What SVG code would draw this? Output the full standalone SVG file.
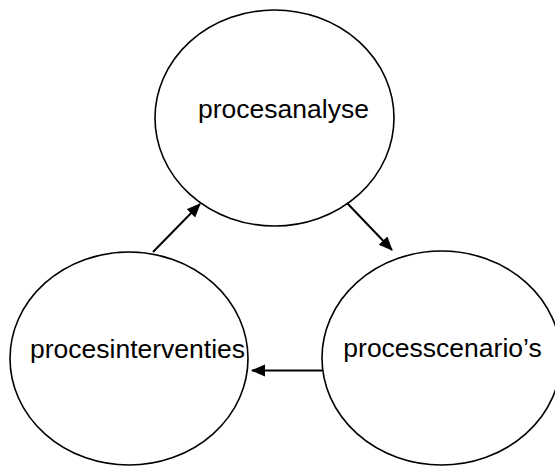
<svg xmlns="http://www.w3.org/2000/svg" width="555" height="466" viewBox="0 0 555 466">
<style>
.node ellipse{fill:#fff;stroke:#000;stroke-width:1.6}
.node text{font-family:"Liberation Sans",Arial,sans-serif;font-size:26.5px;fill:#000;text-anchor:middle}
.conn line{stroke:#000;stroke-width:2}
</style>
<defs>
<marker id="ah" markerUnits="userSpaceOnUse" markerWidth="16" markerHeight="14" refX="13" refY="6" orient="auto">
<path d="M0,0 L14,6 L0,12 z" fill="#000"/>
</marker>
</defs>
<rect width="555" height="466" fill="#fff"/>
<g id="procesanalyse" class="node">
<ellipse cx="274.5" cy="118" rx="119.5" ry="108"/>
<text x="283.5" y="118">procesanalyse</text>
</g>
<g id="procesinterventies" class="node">
<ellipse cx="129" cy="358.5" rx="119" ry="106.5"/>
<text x="137.5" y="358">procesinterventies</text>
</g>
<g id="processcenarios" class="node">
<ellipse cx="441.5" cy="358" rx="119.5" ry="107"/>
<text x="442.5" y="357">processcenario’s</text>
</g>
<g id="connectors" class="conn">
<line x1="153" y1="252" x2="200" y2="204" marker-end="url(#ah)"/>
<line x1="347" y1="203" x2="392" y2="250" marker-end="url(#ah)"/>
<line x1="322" y1="370.5" x2="252" y2="370.5" marker-end="url(#ah)"/>
</g>
</svg>
